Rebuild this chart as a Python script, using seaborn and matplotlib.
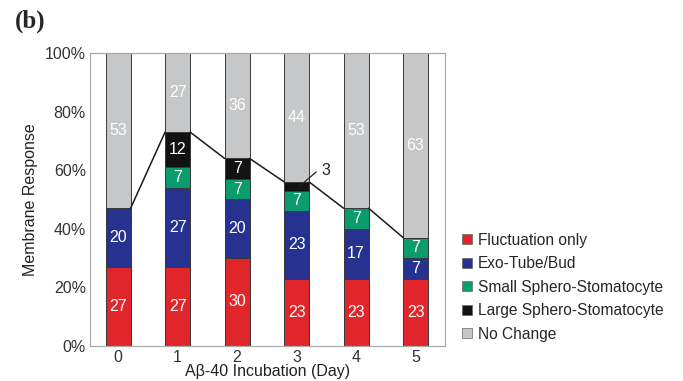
import numpy as np
import matplotlib
matplotlib.use("Agg")
import matplotlib.pyplot as plt
import seaborn as sns
from matplotlib.lines import Line2D

# Dados (percentagens por dia)
dias = ["0", "1", "2", "3", "4", "5"]
flutuacao = [27, 27, 30, 23, 23, 23]
exo_tubo = [20, 27, 20, 23, 17, 7]
esfero_pequeno = [0, 7, 7, 7, 7, 7]
esfero_grande = [0, 12, 7, 3, 0, 0]
sem_mudanca = [53, 27, 36, 44, 53, 63]

categorias = ["Fluctuation only", "Exo-Tube/Bud", "Small Sphero-Stomatocyte",
              "Large Sphero-Stomatocyte", "No Change"]
cores = ["#E0262B", "#27318F", "#0A9C6C", "#121212", "#C5C7C9"]

sns.set_style("white")
plt.rcParams["font.family"] = ["Liberation Sans", "DejaVu Sans"]

series = [flutuacao, exo_tubo, esfero_pequeno, esfero_grande, sem_mudanca]
acumulado = np.cumsum(np.array(series), axis=0)

fig = plt.figure(figsize=(6.83, 3.81), dpi=100)
ax = fig.add_axes([0.132, 0.092, 0.52, 0.769])

largura = 0.42
# barras empilhadas: desenhar do total para baixo
for k in range(len(series) - 1, -1, -1):
    sns.barplot(x=dias, y=acumulado[k], color=cores[k], width=largura,
                edgecolor="#3a3a3a", linewidth=0.7, saturation=1, ax=ax)

# rótulos dentro dos segmentos
for k, vals in enumerate(series):
    for i, v in enumerate(vals):
        if v == 0 or (k == 3 and v < 5):
            continue
        base = acumulado[k][i] - v
        ax.text(i, base + v / 2, str(v), ha="center", va="center",
                color="white", fontsize=11.5)

# rótulo "3" com linha de chamada
ax.plot([3.05, 3.33], [54.5, 59.4], color="#222222", lw=0.9)
ax.text(3.42, 60, "3", ha="left", va="center", fontsize=11.5, color="#222222")

# linha a ligar o topo das respostas
topo = acumulado[3]
for i in range(len(dias) - 1):
    ax.plot([i + largura / 2, i + 1 - largura / 2], [topo[i], topo[i + 1]],
            color="#1a1a1a", lw=1.1)

ax.set_xlim(-0.47, 5.5)
ax.set_ylim(0, 100)
ax.set_yticks(np.arange(0, 101, 20))
ax.set_yticklabels([f"{t}%" for t in range(0, 101, 20)])
ax.tick_params(axis="both", labelsize=11.5, colors="#333333", length=0, pad=3)
for s in ax.spines.values():
    s.set_color("#aaaaaa")
    s.set_linewidth(0.9)
ax.set_xlabel("Aβ-40 Incubation (Day)", fontsize=11.5, color="#222222", labelpad=-1)
ax.set_ylabel("Membrane Response", fontsize=11.5, color="#222222", labelpad=5)

handles = [Line2D([0], [0], marker="s", linestyle="", markersize=7,
                  markerfacecolor=c, markeredgecolor="#666666", markeredgewidth=0.5)
           for c in cores]
fig.legend(handles, categorias, loc="center left", bbox_to_anchor=(0.652, 0.246),
           frameon=False, fontsize=11.2, handletextpad=0.2, labelspacing=0.55,
           handlelength=1.0)

fig.text(0.022, 0.945, "(b)", fontsize=18, fontweight="bold",
         family="Liberation Serif", ha="left", va="center")

fig.savefig("out.png", dpi=100)
